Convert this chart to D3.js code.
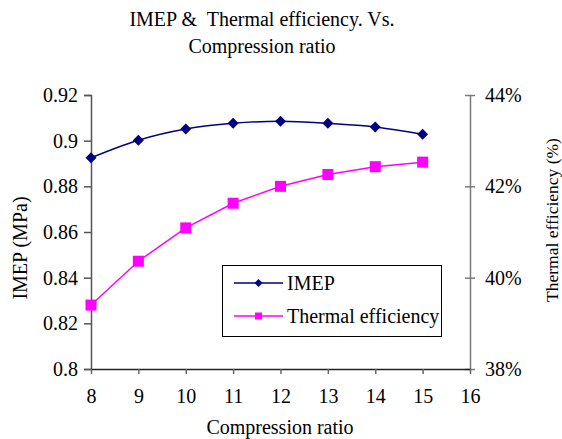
<!DOCTYPE html>
<html>
<head>
<meta charset="utf-8">
<script src="https://cdn.jsdelivr.net/npm/d3@7"></script>
<style>
  html, body { margin: 0; padding: 0; background: #fff; }
  svg { display: block; font-family: "Liberation Serif", serif; }
</style>
</head>
<body>
<svg id="chart" width="562" height="439"></svg>
<script>
// Compression ratio on the x axis
const ratios = [8, 9, 10, 11, 12, 13, 14, 15];
// Indicated mean effective pressure, MPa
const imep = [0.8925, 0.9002, 0.9051, 0.9076, 0.9085, 0.9076, 0.906, 0.9028];
// Brake thermal efficiency, percent
const thermal = [39.4, 40.36, 41.09, 41.63, 42.0, 42.26, 42.43, 42.53];

const xTicks = [8, 9, 10, 11, 12, 13, 14, 15, 16];
const leftTicks = [0.8, 0.82, 0.84, 0.86, 0.88, 0.9, 0.92];
const rightTicks = [38, 40, 42, 44];

const titleLines = ["IMEP &  Thermal efficiency. Vs.", "Compression ratio"];
const seriesNames = ["IMEP", "Thermal efficiency"];

const FONT = "Liberation Serif";
const fontSize = 20;

const svg = d3.select("#chart");

const plot = { left: 91, right: 470, top: 95, bottom: 369 };

const x = d3.scaleLinear().domain([8, 16]).range([plot.left, plot.right]);
const yL = d3.scaleLinear().domain([0.8, 0.92]).range([plot.bottom, plot.top]);
const yR = d3.scaleLinear().domain([38, 44]).range([plot.bottom, plot.top]);

const styleText = sel => sel
  .attr("font-family", FONT)
  .attr("font-size", fontSize)
  .attr("fill", "#000");

// Title
svg.append("g").selectAll("text").data(titleLines).join("text")
  .attr("x", 262)
  .attr("y", (d, i) => 26 + i * 27)
  .attr("text-anchor", "middle")
  .style("white-space", "pre")
  .call(styleText)
  .text(d => d);

// Left axis
const leftAxis = d3.axisLeft(yL).tickValues(leftTicks)
  .tickFormat(d => String(+d.toFixed(2))).tickSize(7).tickPadding(6);
const gL = svg.append("g").attr("transform", `translate(${plot.left},0)`).call(leftAxis);
gL.attr("font-family", FONT);
gL.select(".domain").attr("stroke", "#555").attr("stroke-width", 1.5);
gL.selectAll(".tick line").attr("stroke", "#555").attr("stroke-width", 1.5);
gL.selectAll(".tick text").call(styleText);

// Right axis with ticks crossing the line
const rightAxis = d3.axisRight(yR).tickValues(rightTicks)
  .tickFormat(d => d + "%").tickSizeInner(5).tickSizeOuter(0).tickPadding(10);
const gR = svg.append("g").attr("transform", `translate(${plot.right},0)`).call(rightAxis);
gR.attr("font-family", FONT);
gR.select(".domain").attr("stroke", "#7a7a7a").attr("stroke-width", 1.5);
gR.selectAll(".tick line").attr("stroke", "#7a7a7a").attr("stroke-width", 1.5).attr("x1", -5);
gR.selectAll(".tick text").call(styleText);

// Bottom axis
const bottomAxis = d3.axisBottom(x).tickValues(xTicks).tickFormat(d3.format("d"))
  .tickSize(5).tickSizeOuter(0).tickPadding(15);
const gB = svg.append("g").attr("transform", `translate(0,${plot.bottom})`).call(bottomAxis);
gB.attr("font-family", FONT);
gB.select(".domain").attr("stroke", "#222").attr("stroke-width", 1.5);
gB.selectAll(".tick line").attr("stroke", "#666").attr("stroke-width", 1.5);
gB.selectAll(".tick text").call(styleText);

// Axis titles
svg.append("text")
  .attr("x", 280).attr("y", 434)
  .attr("text-anchor", "middle")
  .call(styleText)
  .text("Compression ratio");

svg.append("text")
  .attr("transform", "translate(27,248) rotate(-90)")
  .attr("text-anchor", "middle")
  .call(styleText)
  .text("IMEP (MPa)");

svg.append("text")
  .attr("transform", "translate(558,220) rotate(-90)")
  .attr("text-anchor", "middle")
  .call(styleText)
  .attr("font-size", 17.5)
  .text("Thermal efficiency (%)");

// Series data
const imepPts = ratios.map((r, i) => ({ x: r, y: imep[i] }));
const thermPts = ratios.map((r, i) => ({ x: r, y: thermal[i] }));

const imepColor = "#000080";
const thermColor = "#ff00ff";

// Thermal efficiency line and square markers
svg.append("path")
  .datum(thermPts)
  .attr("fill", "none")
  .attr("stroke", thermColor)
  .attr("stroke-width", 1.5)
  .attr("d", d3.line().x(d => x(d.x)).y(d => yR(d.y)));

svg.append("g").selectAll("rect").data(thermPts).join("rect")
  .attr("x", d => x(d.x) - 5.5)
  .attr("y", d => yR(d.y) - 5.5)
  .attr("width", 11).attr("height", 11)
  .attr("fill", thermColor);

// IMEP smoothed line and diamond markers
svg.append("path")
  .datum(imepPts)
  .attr("fill", "none")
  .attr("stroke", imepColor)
  .attr("stroke-width", 1.5)
  .attr("d", d3.line().curve(d3.curveCatmullRom.alpha(0.5)).x(d => x(d.x)).y(d => yL(d.y)));

const diamond = (cx, cy, r) => `M${cx},${cy - r}L${cx + r},${cy}L${cx},${cy + r}L${cx - r},${cy}Z`;

svg.append("g").selectAll("path").data(imepPts).join("path")
  .attr("d", d => diamond(x(d.x), yL(d.y), 5.5))
  .attr("fill", imepColor);

// Legend
const legend = svg.append("g");
legend.append("rect")
  .attr("x", 222.5).attr("y", 265.5)
  .attr("width", 219).attr("height", 71)
  .attr("fill", "#fff").attr("stroke", "#000").attr("stroke-width", 1);

const legendRows = [
  { name: seriesNames[0], color: imepColor, y: 283, shape: "diamond" },
  { name: seriesNames[1], color: thermColor, y: 316, shape: "square" }
];

legendRows.forEach(row => {
  legend.append("line")
    .attr("x1", 234).attr("x2", 283)
    .attr("y1", row.y).attr("y2", row.y)
    .attr("stroke", row.color).attr("stroke-width", 1.5);
  if (row.shape === "diamond") {
    legend.append("path").attr("d", diamond(258.5, row.y, 4)).attr("fill", row.color);
  } else {
    legend.append("rect")
      .attr("x", 255).attr("y", row.y - 3.5)
      .attr("width", 7).attr("height", 7).attr("fill", row.color);
  }
  legend.append("text")
    .attr("x", 287).attr("y", row.y + 7)
    .call(styleText)
    .text(row.name);
});
</script>
</body>
</html>
